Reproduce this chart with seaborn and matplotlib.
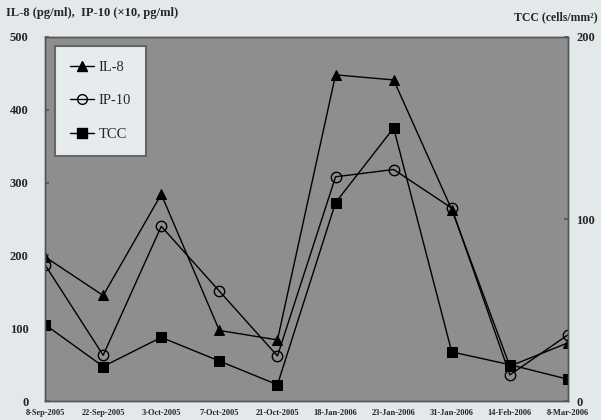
import matplotlib
matplotlib.use("Agg")
import matplotlib.pyplot as plt
import seaborn as sns
import pandas as pd
from matplotlib.lines import Line2D

dates = ["8-Sep-2005", "22-Sep-2005", "3-Oct-2005", "7-Oct-2005", "21-Oct-2005",
         "18-Jan-2006", "23-Jan-2006", "31-Jan-2006", "14-Feb-2006", "8-Mar-2006"]
il8 = [198, 145, 284, 97, 84, 448, 441, 263, 48, 80]
ip10 = [187, 63, 240, 151, 62, 308, 318, 265, 36, 91]
tcc = [42, 19, 35, 22, 9, 109, 150, 27, 20, 12]

left_ticks = [0, 100, 200, 300, 400, 500]
right_ticks = [0, 100, 200]

sns.set_theme(style="white")
plt.rcParams['font.family'] = ['Liberation Serif', 'DejaVu Serif']

df = pd.DataFrame({"idx": range(len(dates)), "date": dates,
                   "IL-8": il8, "IP-10": ip10, "TCC": tcc})

outer = "#e3e8ea"
fig = plt.figure(figsize=(6.01, 4.2), dpi=100, facecolor=outer)
ax = fig.add_axes([0.075, 0.045, 0.870, 0.867])
ax.set_facecolor("#8e8e8e")

sns.lineplot(data=df, x="idx", y="IL-8", ax=ax, color="black", lw=1.0,
             marker="^", markersize=7.5, markerfacecolor="black",
             markeredgecolor="black", label="IL-8", legend=False)
sns.lineplot(data=df, x="idx", y="IP-10", ax=ax, color="black", lw=1.0,
             marker="o", markersize=7.5, markerfacecolor="none",
             markeredgecolor="black", markeredgewidth=1.0, label="IP-10", legend=False)

ax2 = ax.twinx()
sns.lineplot(data=df, x="idx", y="TCC", ax=ax2, color="black", lw=1.0,
             marker="s", markersize=7.5, markerfacecolor="black",
             markeredgecolor="black", label="TCC", legend=False)

ax.set_xlim(0, len(dates) - 1)
ax.set_ylim(0, 500)
ax2.set_ylim(0, 200)
ax.set_yticks(left_ticks)
ax2.set_yticks(right_ticks)
ax.set_xticks(range(len(dates)))
ax.set_xticklabels(dates, fontsize=6, fontweight="bold")
ax.set_yticklabels([str(t) for t in left_ticks], fontsize=9, fontweight="bold")
ax2.set_yticklabels([str(t) for t in right_ticks], fontsize=9, fontweight="bold")
ax.set_xlabel("")
ax.set_ylabel("")
ax2.set_ylabel("")

for a in (ax, ax2):
    for s in a.spines.values():
        s.set_color("#555555")
        s.set_linewidth(1.0)
ax.tick_params(axis="both", length=3, color="#555555", direction="in")
ax.tick_params(axis="y", pad=12)
ax2.tick_params(axis="y", length=3, color="#555555", pad=6, direction="in")
ax.tick_params(axis="x", pad=6)

fig.text(0.01, 0.97, "IL-8 (pg/ml),  IP-10 (×10, pg/ml)", fontsize=9,
         fontweight="bold", ha="left", va="center")
fig.text(0.995, 0.96, "TCC (cells/mm²)", fontsize=8.5, fontweight="bold",
         ha="right", va="center")

handles = [
    Line2D([], [], color="black", lw=1.0, marker="^", markersize=7,
           markerfacecolor="black", markeredgecolor="black"),
    Line2D([], [], color="black", lw=1.0, marker="o", markersize=7,
           markerfacecolor="none", markeredgecolor="black"),
    Line2D([], [], color="black", lw=1.0, marker="s", markersize=7,
           markerfacecolor="black", markeredgecolor="black"),
]
leg = ax2.legend(handles, ["IL-8", "IP-10", "TCC"], loc="upper left",
                 bbox_to_anchor=(0.019, 0.975), frameon=True, fancybox=False,
                 fontsize=10.5, handlelength=1.7, handletextpad=0.3,
                 labelspacing=1.4, borderpad=1.0, borderaxespad=0)
leg.get_frame().set_facecolor("#e6ecee")
leg.get_frame().set_edgecolor("#666666")
leg.get_frame().set_linewidth(1.5)
leg.get_frame().set_alpha(1.0)

fig.savefig("out.png", dpi=100, facecolor=outer)
